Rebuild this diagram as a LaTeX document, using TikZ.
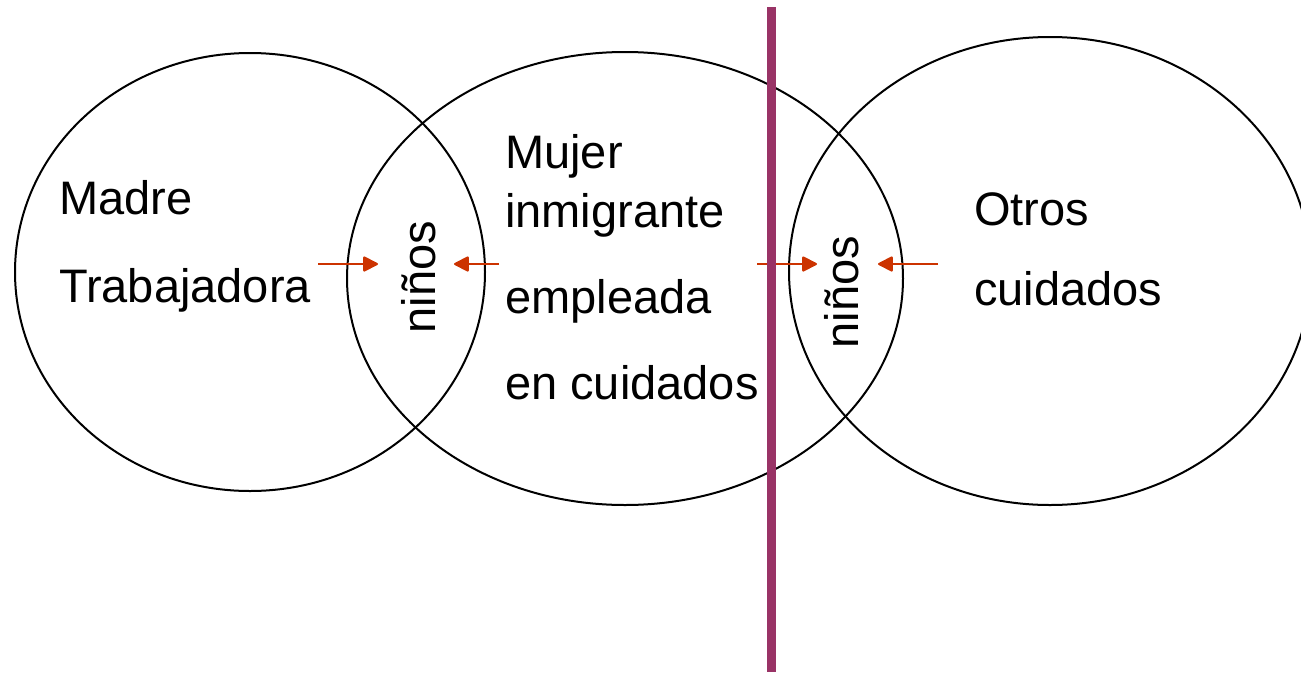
\documentclass[tikz,border=0pt]{standalone}
\usepackage{fontspec}
\setmainfont{Liberation Sans}
\usetikzlibrary{arrows.meta}
\definecolor{barra}{RGB}{153,51,102}
\definecolor{flecha}{RGB}{204,51,0}

\begin{document}
\begin{tikzpicture}[x=1pt,y=-1pt,
	txt/.style={anchor=base west,inner sep=0pt,font=\fontsize{47}{56}\selectfont},
	ninos/.style={txt,anchor=base,rotate=90},
	flechita/.style={draw=flecha,line width=2pt,-{Triangle[length=16pt,width=16pt,round=false]}},
	circulo/.style={line width=2pt}]
	\useasboundingbox (0,0) rectangle (1301,672);
	% los tres circulos
	\draw[circulo] (250,272) ellipse [x radius=235, y radius=219];
	\draw[circulo] (625,278.5) ellipse [x radius=278, y radius=226.5];
	\draw[circulo] (1050,271) ellipse [x radius=261, y radius=234];
	% textos
	\draw (59,214) node[txt] (madre) {Madre};
	\draw (59,302) node[txt] (trab) {Trabajadora};
	\draw (505,168) node[txt] (mujer) {Mujer};
	\draw (505,227) node[txt] (inmig) {inmigrante};
	\draw (505,313) node[txt] (empl) {empleada};
	\draw (505,399) node[txt] (encuid) {en cuidados};
	\draw (974,225) node[txt] (otros) {Otros};
	\draw (974,305) node[txt] (cuid) {cuidados};
	\draw (435,277) node[ninos] (ninosA) {niños};
	\draw (858,292) node[ninos] (ninosB) {niños};
	% flechas
	\coordinate (a1) at (318,264);
	\coordinate (b1) at (378,264);
	\coordinate (a2) at (499,264);
	\coordinate (b2) at (454,264);
	\coordinate (a3) at (757,264);
	\coordinate (b3) at (817,264);
	\coordinate (a4) at (938,264);
	\coordinate (b4) at (878,264);
	\draw[flechita] (a1) -- (b1);
	\draw[flechita] (a2) -- (b2);
	\draw[flechita] (a3) -- (b3);
	\draw[flechita] (a4) -- (b4);
	% barra
	\coordinate (arriba) at (771.5,7);
	\coordinate (abajo) at (771.5,672);
	\draw[barra,line width=9pt] (arriba) -- (abajo);
\end{tikzpicture}
\end{document}
